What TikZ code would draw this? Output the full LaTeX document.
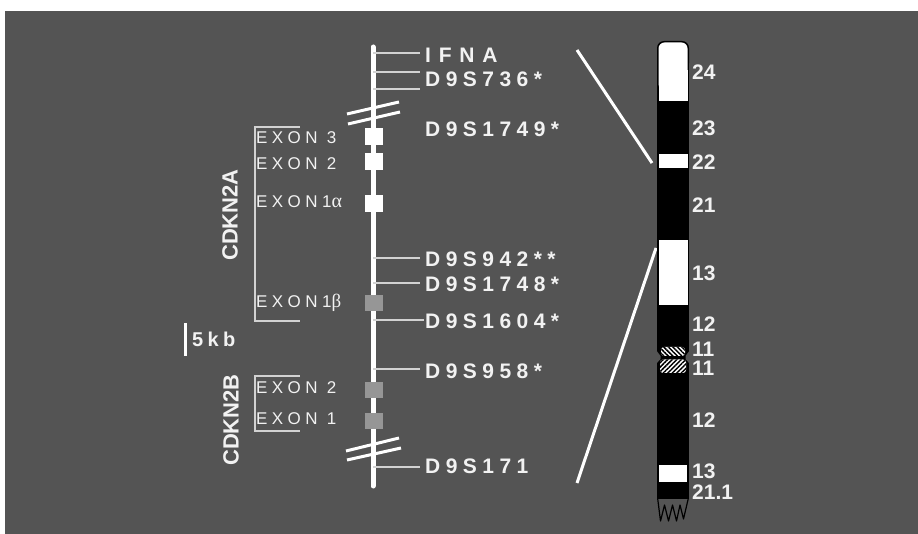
\documentclass[tikz,border=0pt]{standalone}
\usepackage{fontspec}
\setmainfont{Liberation Sans}
\newfontfamily\mkfont[LetterSpace=26]{Liberation Sans}
\newfontfamily\ifnafont[LetterSpace=37]{Liberation Sans}
\newfontfamily\exfont[LetterSpace=26]{Liberation Sans}
\newfontfamily\grkfont{Liberation Serif}
\newfontfamily\kbfont[LetterSpace=22]{Liberation Sans}
\usetikzlibrary{patterns.meta,calc}
\definecolor{bggray}{RGB}{84,84,84}
\definecolor{txt}{RGB}{242,242,242}
\definecolor{thinln}{RGB}{210,210,210}
\definecolor{exgray}{RGB}{150,150,150}
\begin{document}
\begin{tikzpicture}[x=1pt,y=-1pt,
  marker/.style={font=\mkfont\bfseries\fontsize{21}{25}\selectfont, text=txt, anchor=base west, inner xsep=5pt, inner ysep=0pt},
  exlabel/.style={font=\exfont\fontsize{17}{20}\selectfont, text=txt, anchor=base west, inner sep=0pt},
  exonW/.style={fill=white, minimum width=18pt, minimum height=17pt, inner sep=0pt},
  exonG/.style={fill=exgray, minimum width=18pt, minimum height=16pt, inner sep=0pt},
  tickln/.style={draw=thinln, line width=1.4pt},
  bracketln/.style={draw=thinln, line width=1.4pt},
  thickln/.style={draw=white, line width=3pt},
  gene/.style={font=\bfseries\fontsize{22}{26}\selectfont, text=txt, rotate=90, inner sep=0pt},
  chrlab/.style={font=\bfseries\fontsize{21}{25}\selectfont, text=txt, anchor=base west, inner sep=0pt},
  whiteband/.style={fill=white},
  hatchA/.style={pattern={Lines[angle=-45,distance=3.2pt,line width=1.5pt]}, pattern color=black},
  hatchB/.style={pattern={Lines[angle=45,distance=3.2pt,line width=1.5pt]}, pattern color=black}
]
% background
\fill[white] (0,0) rectangle (918,534);
\fill[bggray] (5,11) rectangle (918,534);
\useasboundingbox (0,0) rectangle (918,534);

% main line
\coordinate (ltop) at (373,47);
\coordinate (lbot) at (373,486);
\draw[white, line width=5pt, line cap=round] (ltop) -- (lbot);

% break marks
\coordinate (b1a) at (347,114); \coordinate (b1b) at (399,102);
\coordinate (b2a) at (348,124); \coordinate (b2b) at (400,112);
\coordinate (b3a) at (346,451); \coordinate (b3b) at (399,438);
\coordinate (b4a) at (347,460); \coordinate (b4b) at (401,448);
\draw[thickln] (b1a) -- (b1b);
\draw[thickln] (b2a) -- (b2b);
\draw[thickln] (b3a) -- (b3b);
\draw[thickln] (b4a) -- (b4b);

% markers
\node[marker, font=\ifnafont\bfseries\fontsize{21}{25}\selectfont] (ifna) at (420,63) {IFNA};
\node[marker] (m736) at (420,87) {D9S736*};
\node[marker] (m1749) at (420,137) {D9S1749*};
\node[marker] (m942) at (420,267) {D9S942**};
\node[marker] (m1748) at (420,292) {D9S1748*};
\node[marker] (m1604) at (420,329) {D9S1604*};
\node[marker] (m958) at (420,378) {D9S958*};
\node[marker] (m171) at (420,473) {D9S171};

\coordinate (t1) at (373,53);
\coordinate (t2) at (373,72);
\coordinate (t3) at (373,89);
\coordinate (t3e) at (420,89);
\coordinate (t4) at (373,258);
\coordinate (t5) at (373,283);
\coordinate (t6) at (373,320);
\coordinate (t7) at (373,369);
\coordinate (t8) at (373,467);
\draw[tickln] (t1) -- (t1 -| ifna.west);
\draw[tickln] (t2) -- (t2 -| m736.west);
\draw[tickln] (t3) -- (t3e);
\draw[tickln] (t4) -- (t4 -| m942.west);
\draw[tickln] (t5) -- (t5 -| m1748.west);
\draw[tickln] (t6) -- ($(t6 -| m1604.west)+(4,0)$);
\draw[tickln] (t7) -- (t7 -| m958.west);
\draw[tickln] (t8) -- (t8 -| m171.west);

% exons
\node[exonW] (e3) at (374,136.5) {};
\node[exonW] (e2) at (374,162) {};
\node[exonW] (e1a) at (374,203.5) {};
\node[exonG] (e1b) at (374,303.5) {};
\node[exonG] (f2) at (374,389.5) {};
\node[exonG] (f1) at (374,420.5) {};

\node[exlabel] (le3) at (256,144) {EXON 3};
\node[exlabel] (le2) at (256,170) {EXON 2};
\node[exlabel] (le1a) at (256,208) {EXON1{\grkfont\fontsize{20}{22}\selectfont α}};
\node[exlabel] (le1b) at (256,308) {EXON1{\grkfont\fontsize{19}{22}\selectfont β}};
\node[exlabel] (lf2) at (256,393) {EXON 2};
\node[exlabel] (lf1) at (256,424) {EXON 1};

% brackets
\coordinate (a1) at (300,127); \coordinate (a2) at (255,127);
\coordinate (a3) at (255,321); \coordinate (a4) at (300,321);
\draw[bracketln] (a1) -- (a2) -- (a3) -- (a4);
\coordinate (c1) at (300,376); \coordinate (c2) at (255,376);
\coordinate (c3) at (255,431); \coordinate (c4) at (300,431);
\draw[bracketln] (c1) -- (c2) -- (c3) -- (c4);

\node[gene] (cdkn2a) at (230,215) {CDKN2A};
\node[gene] (cdkn2b) at (231,420) {CDKN2B};

% scale bar
\coordinate (s1) at (185,323); \coordinate (s2) at (185,356);
\draw[thickln] (s1) -- (s2);
\node[anchor=base west, inner sep=0pt, text=txt, font=\kbfont\bfseries\fontsize{20}{24}\selectfont] (kb) at (192,347) {5kb};

% projection lines
\coordinate (p1) at (577,50); \coordinate (p2) at (652,163);
\coordinate (p3) at (577,483); \coordinate (p4) at (656,248);
\draw[thickln] (p1) -- (p2);
\draw[thickln] (p3) -- (p4);

% chromosome
\fill[black, rounded corners=7pt] (657,41) rectangle (689,70);
\fill[black] (657,55) rectangle (689,499);
\fill[whiteband, rounded corners=6pt] (658.5,42.5) rectangle (687.5,90);
\fill[whiteband] (658.5,70) rectangle (687.5,101);
\fill[whiteband] (658.5,154) rectangle (687.5,168);
\fill[whiteband] (658.5,240) rectangle (687.5,305);
\fill[whiteband] (659,465) rectangle (687,482);
% centromere notches
\fill[bggray] (656,350) -- (660.5,356) -- (660.5,359) -- (656,364) -- cycle;
\fill[bggray] (690,350) -- (685.5,356) -- (685.5,359) -- (690,364) -- cycle;
% hatched bands
\fill[white, rounded corners=3pt] (661,347) rectangle (685,356);
\fill[hatchA, rounded corners=3pt] (661,347) rectangle (685,356);
\fill[white, rounded corners=3pt] (660,359.5) rectangle (686,373);
\fill[hatchB, rounded corners=3pt] (660,359.5) rectangle (686,373);
% frayed end
\draw[black, line width=1.2pt, line join=round] (657.6,498) -- (660.5,521) -- (664.5,505) -- (668.5,521) -- (672.5,505) -- (676.5,521) -- (680,505) -- (683.5,519) -- (688.4,498);

% band labels
\node[chrlab] (l24) at (692,80) {24};
\node[chrlab] (l23) at (692,136) {23};
\node[chrlab] (l22) at (692,170) {22};
\node[chrlab] (l21) at (692,213) {21};
\node[chrlab] (l13a) at (692,281) {13};
\node[chrlab] (l12a) at (692,332) {12};
\node[chrlab] (l11a) at (692,357) {11};
\node[chrlab] (l11b) at (692,376) {11};
\node[chrlab] (l12b) at (692,427) {12};
\node[chrlab] (l13b) at (692,478) {13};
\node[chrlab] (l211) at (692,499) {21.1};
\end{tikzpicture}
\end{document}
